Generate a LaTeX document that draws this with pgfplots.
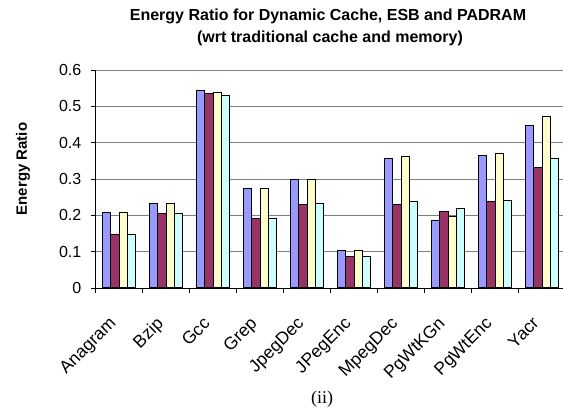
\documentclass[border=0pt]{standalone}
\usepackage{fontspec}
\setmainfont{Liberation Sans}
\newfontfamily\seriffont{Liberation Serif}
\usepackage{pgfplots}
\pgfplotsset{compat=1.18}
\definecolor{cA}{RGB}{153,153,255}
\definecolor{cB}{RGB}{153,51,102}
\definecolor{cC}{RGB}{255,255,204}
\definecolor{cD}{RGB}{204,255,255}
\definecolor{gridc}{RGB}{128,128,128}
\begin{document}
\begin{tikzpicture}
\useasboundingbox (0,0) rectangle (563pt,415pt);
\begin{axis}[
  at={(95.5pt,127pt)}, anchor=south west,
  scale only axis, width=470pt, height=218pt,
  xmin=-0.5, xmax=9.5, ymin=0, ymax=0.6,
  ybar=0pt, bar width=8.4pt,
  axis lines=left, axis line style={-, black, line width=0.8pt},
  clip=false,
  xtick={0,1,2,3,4,5,6,7,8,9},
  xticklabels={Anagram,Bzip,Gcc,Grep,JpegDec,JPegEnc,MpegDec,PgWtKGn,PgWtEnc,Yacr},
  minor xtick={-0.5,0.5,1.5,2.5,3.5,4.5,5.5,6.5,7.5,8.5,9.5},
  major x tick style={draw=none},
  minor x tick style={black, line width=0.8pt},
  ytick={0,0.1,0.2,0.3,0.4,0.5,0.6},
  yticklabels={0,0.1,0.2,0.3,0.4,0.5,0.6},
  y tick style={black, line width=0.8pt},
  tick align=outside,
  major tick length=5pt, minor tick length=5pt,
  ymajorgrids,
  major grid style={gridc, line width=0.9pt},
  xticklabel style={font=\fontsize{17.5}{17.5}\selectfont, rotate=45, anchor=north east, inner sep=0pt, xshift=-23.8pt, yshift=-8.5pt},
  yticklabel style={font=\fontsize{16}{16}\selectfont, anchor=east, inner sep=0pt, xshift=-9pt},
  every axis plot/.append style={draw=black, line width=1pt},
]
\addplot[fill=cA] coordinates {(0,0.209) (1,0.233) (2,0.544) (3,0.275) (4,0.298) (5,0.104) (6,0.356) (7,0.187) (8,0.365) (9,0.448)};
\addplot[fill=cB] coordinates {(0,0.147) (1,0.205) (2,0.536) (3,0.191) (4,0.229) (5,0.086) (6,0.229) (7,0.210) (8,0.237) (9,0.333)};
\addplot[fill=cC] coordinates {(0,0.209) (1,0.233) (2,0.539) (3,0.275) (4,0.298) (5,0.104) (6,0.362) (7,0.197) (8,0.370) (9,0.471)};
\addplot[fill=cD] coordinates {(0,0.147) (1,0.205) (2,0.531) (3,0.191) (4,0.233) (5,0.086) (6,0.237) (7,0.220) (8,0.242) (9,0.356)};
\end{axis}
\node[anchor=base, inner sep=0pt] at (328pt,394.3pt) {\bfseries\fontsize{16}{18}\selectfont Energy Ratio for Dynamic Cache, ESB and PADRAM};
\node[anchor=base, inner sep=0pt] at (330pt,372.3pt) {\bfseries\fontsize{16}{18}\selectfont (wrt traditional cache and memory)};
\node[rotate=90, inner sep=0pt] at (23pt,246pt) {\bfseries\fontsize{15}{15}\selectfont Energy Ratio};
\node[inner sep=0pt] at (322pt,16pt) {\seriffont\fontsize{18}{18}\selectfont (ii)};
\end{tikzpicture}
\end{document}
